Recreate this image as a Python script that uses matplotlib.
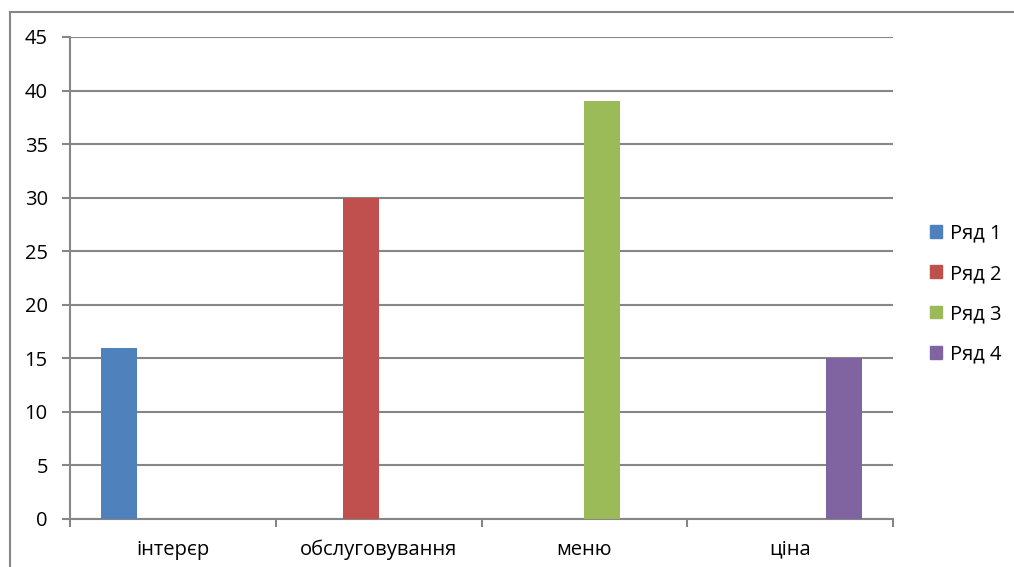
import numpy as np
import matplotlib.pyplot as plt
from matplotlib.lines import Line2D

plt.rcParams['font.family'] = ['Open Sans', 'DejaVu Sans']

categories = ['інтерєр', 'обслуговування', 'меню', 'ціна']
series_names = ['Ряд 1', 'Ряд 2', 'Ряд 3', 'Ряд 4']
ryad1 = [16, 0, 0, 0]
ryad2 = [0, 30, 0, 0]
ryad3 = [0, 0, 39, 0]
ryad4 = [0, 0, 0, 15]
colors = ['#4F81BD', '#C0504D', '#9BBB59', '#8064A2']

grid_c = '#868686'
fs = 14.5

fig = plt.figure(figsize=(10.14, 5.67), dpi=100)
ax = fig.add_axes([70 / 1014, 48 / 567, 823 / 1014, 482 / 567])

x = np.arange(len(categories))
w = 0.175
for i, vals in enumerate([ryad1, ryad2, ryad3, ryad4]):
    ax.bar(x + (i - 1.5) * w, vals, width=w, color=colors[i], label=series_names[i], zorder=3)

ax.set_xlim(-0.5, 3.5)
ax.set_ylim(0, 45)
ax.set_yticks(range(0, 46, 5))
ax.yaxis.grid(True, color=grid_c, linewidth=1.5, zorder=0)

ax.set_xticks(x)
ax.set_xticklabels(categories)
ax.set_xticks(np.arange(-0.5, 4, 1), minor=True)
ax.tick_params(axis='x', which='major', length=0, pad=15, labelsize=fs, colors='#000000')
ax.tick_params(axis='x', which='minor', length=6, width=1.5, color=grid_c)
ax.tick_params(axis='y', length=6, width=1.5, color=grid_c, pad=10, labelsize=fs)

for s in ['top', 'right']:
    ax.spines[s].set_visible(False)
for s in ['left', 'bottom']:
    ax.spines[s].set_color(grid_c)
    ax.spines[s].set_linewidth(1.5)

handles = [plt.Rectangle((0, 0), 1, 1, color=c) for c in colors]
fig.legend(handles, series_names, loc='center left', bbox_to_anchor=(930 / 1014, 1 - 294 / 567),
           frameon=False, fontsize=fs, handlelength=0.6, handleheight=0.6,
           handletextpad=0.4, labelspacing=1.0, borderaxespad=0, borderpad=0)

# outer chart frame (partly cropped in the reference)
fig.add_artist(Line2D([10 / 1014, 10 / 1014], [0, 1 - 12 / 567], color=grid_c, linewidth=1.5))
fig.add_artist(Line2D([10 / 1014, 1], [1 - 12 / 567, 1 - 12 / 567], color=grid_c, linewidth=1.5))

fig.savefig('out.png', dpi=100)
